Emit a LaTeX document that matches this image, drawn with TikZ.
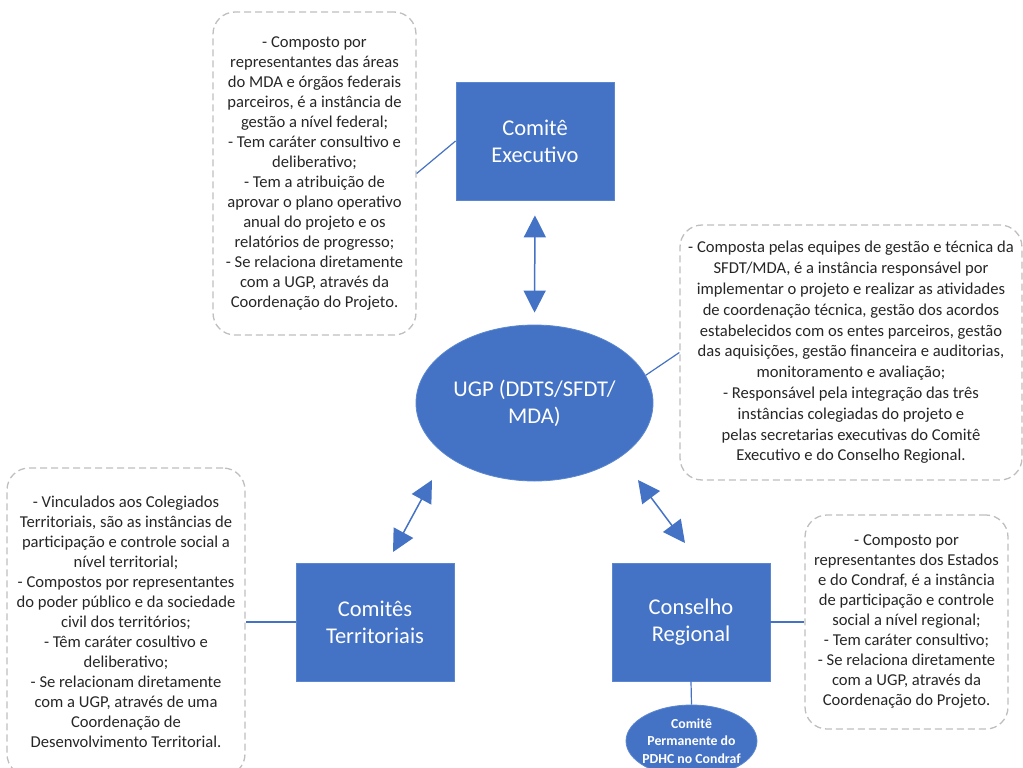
\documentclass[tikz,border=0pt]{standalone}
\usepackage{fontspec}
\setmainfont{Carlito}
\usetikzlibrary{shapes.geometric,arrows.meta}
\definecolor{boxblue}{HTML}{4472C4}
\definecolor{boxedge}{HTML}{5B87D0}
\definecolor{dashgray}{HTML}{BFBFBF}
\definecolor{txtgray}{HTML}{262626}
\tikzset{
  callout/.style={draw=dashgray, line width=1.3pt, dash pattern=on 7pt off 4pt,
    rounded corners=22pt, align=center, text=txtgray, inner sep=0pt,
    font=\fontsize{16.6}{20}\selectfont},
  bluebox/.style={draw=boxedge, line width=0.8pt, fill=boxblue, text=white,
    align=center, minimum width=158pt, minimum height=118pt, inner sep=0pt,
    font=\fontsize{22.5}{27}\selectfont},
  blueell/.style={ellipse, draw=boxedge, line width=0.8pt, fill=boxblue, text=white,
    align=center, inner sep=0pt},
  link/.style={draw=boxblue, line width=1.2pt},
  dbl/.style={draw=boxblue, line width=1.5pt,
    {Triangle[width=22pt,length=22pt]}-{Triangle[width=22pt,length=22pt]}}
}
\begin{document}
\begin{tikzpicture}[x=1pt,y=-1pt]
\useasboundingbox (0,0) rectangle (1023,768);

% callouts
\node[callout, minimum width=203pt, minimum height=323pt] (callTL) at (314.5,173.5)
  {- Composto por\\representantes das áreas\\do MDA e órgãos federais\\parceiros, é a instância de\\gestão a nível federal;\\- Tem caráter consultivo e\\deliberativo;\\- Tem a atribuição de\\aprovar o plano operativo\\anual do projeto e os\\relatórios de progresso;\\- Se relaciona diretamente\\com a UGP, através da\\Coordenação do Projeto.};

\node[callout, minimum width=342pt, minimum height=255pt, font=\fontsize{16.6}{20.8}\selectfont] (callR) at (851,352.5)
  {- Composta pelas equipes de gestão e técnica da\\SFDT/MDA, é a instância responsável por\\implementar o projeto e realizar as atividades\\de coordenação técnica, gestão dos acordos\\estabelecidos com os entes parceiros, gestão\\das aquisições, gestão financeira e auditorias,\\monitoramento e avaliação;\\- Responsável pela integração das três\\instâncias colegiadas do projeto e\\pelas secretarias executivas do Comitê\\Executivo e do Conselho Regional.};

\node[callout, minimum width=238pt, minimum height=308pt] (callBL) at (126,622)
  {- Vinculados aos Colegiados\\Territoriais, são as instâncias de\\participação e controle social a\\nível territorial;\\- Compostos por representantes\\do poder público e da sociedade\\civil dos territórios;\\- Têm caráter cosultivo e\\deliberativo;\\- Se relacionam diretamente\\com a UGP, através de uma\\Coordenação de\\Desenvolvimento Territorial.};

\node[callout, minimum width=203pt, minimum height=214pt] (callBR) at (906.5,622)
  {- Composto por\\representantes dos Estados\\e do Condraf, é a instância\\de participação e controle\\social a nível regional;\\- Tem caráter consultivo;\\- Se relaciona diretamente\\com a UGP, através da\\Coordenação do Projeto.};

% blue shapes
\node[bluebox] (exec) at (535,141) {Comitê\\Executivo};
\node[blueell, minimum width=237pt, minimum height=156pt, font=\fontsize{22.5}{27}\selectfont] (ugp) at (534.5,403) {UGP (DDTS/SFDT/\\MDA)};
\node[bluebox] (terr) at (375,622) {Comitês\\Territoriais};
\node[bluebox] (cons) at (691,622) {Conselho\\Regional};
\node[blueell, minimum width=131pt, minimum height=72pt,
  label={[text=white, align=center, inner sep=0pt, font=\bfseries\fontsize{13.8}{17.5}\selectfont]center:Comitê\\Permanente do\\PDHC no Condraf}] (pdhc) at (691.5,741) {};

% plain connectors
\draw[link] (callTL.east) -- (exec.west);
\draw[link] (ugp.14) -- (callR.west);
\draw[link] (terr.west) -- (callBL.east);
\draw[link] (cons.east) -- (callBR.west);
\draw[link] (cons.south) -- (pdhc.north);

% double arrows
\coordinate (la) at (432,480);
\coordinate (lb) at (393,552);
\coordinate (ra) at (638,480);
\coordinate (rb) at (685,543);
\draw[dbl, shorten <=15pt, shorten >=12pt] (exec.south) -- (ugp.north);
\draw[dbl] (la) -- (lb);
\draw[dbl] (ra) -- (rb);
\end{tikzpicture}
\end{document}
